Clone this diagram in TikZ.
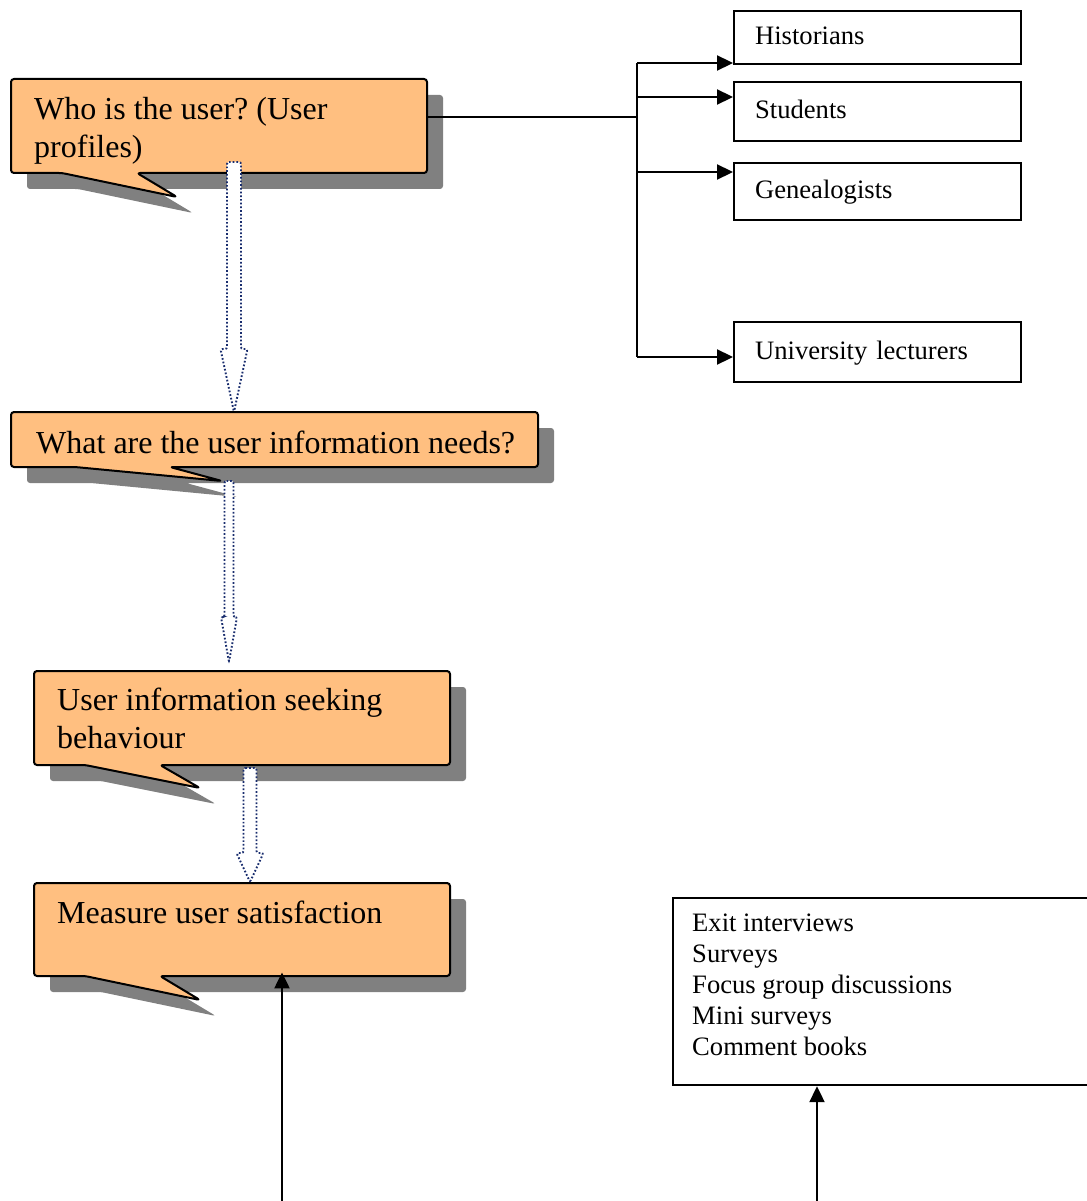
\documentclass[tikz,border=0pt]{standalone}
\usepackage{fontspec}
\setmainfont{Liberation Serif}
\usetikzlibrary{arrows.meta}
\definecolor{calloutfill}{RGB}{255,191,128}
\definecolor{shadowgray}{RGB}{128,128,128}
\definecolor{dotblue}{RGB}{25,45,110}
\frenchspacing
% x1 y1 x2 y2 bl br tipx tipy
\newcommand{\mycallout}[8]{%
  \fill[shadowgray, rounded corners=3pt, shift={(16,16)}] (#1,#2) -- (#3,#2) -- (#3,#4) -- (#6,#4) -- (#7,#8) -- (#5,#4) -- (#1,#4) -- cycle;
  \filldraw[fill=calloutfill, draw=black, line width=2pt, rounded corners=3pt, line join=round] (#1,#2) -- (#3,#2) -- (#3,#4) -- (#6,#4) -- (#7,#8) -- (#5,#4) -- (#1,#4) -- cycle;
}
% xc ytop halfshaft yhead halfhead ytip
\newcommand{\myblockarrow}[6]{%
  \filldraw[fill=white, draw=dotblue, line width=1.9pt, dash pattern=on 1.7pt off 2pt, rounded corners=2pt]
    (#1-#3,#2) -- (#1+#3,#2) -- (#1+#3,#4) -- (#1+#5,#4) -- (#1,#6) -- (#1-#5,#4) -- (#1-#3,#4) -- cycle;
}
\begin{document}
\begin{tikzpicture}[x=1pt,y=-1pt,
  callfont/.style={font=\fontsize{32}{38}\selectfont},
  boxfont/.style={font=\fontsize{26.6}{30.8}\selectfont},
  region/.style={inner sep=0pt, minimum width=#1, anchor=north west},
  userbox/.style={draw, line width=2.2pt, anchor=north west, text width=245pt, inner xsep=21pt, inner ysep=0pt, align=left, boxfont, text height=14pt, text depth=0pt},
  conn/.style={line width=2.2pt, -{Triangle[length=16pt,width=15pt]}},
  plain/.style={line width=1.7pt},
]
\useasboundingbox (0,0) rectangle (1086,1201);

% callout shapes
\mycallout{11}{79}{427}{173}{62}{137}{177}{197}
\mycallout{11}{412}{538}{467}{75}{170}{222}{481}
\mycallout{34}{671}{450}{765}{85}{160}{200}{788}
\mycallout{34}{883}{450}{976}{85}{160}{200}{1000}

% named regions of the callouts
\node[region=416pt, minimum height=94pt] (c1) at (11,79) {};
\node[region=527pt, minimum height=55pt] (c2) at (11,412) {};
\node[region=416pt, minimum height=94pt] (c3) at (34,671) {};
\node[region=416pt, minimum height=93pt] (c4) at (34,883) {};

% callout texts (base = last line)
\node[callfont, anchor=base west, inner sep=0pt, align=left] (t1) at (34,158) {Who is the user? (User\\profiles)};
\node[callfont, anchor=base west, inner sep=0pt] (t2) at (36,453) {What are the user information needs?};
\node[callfont, anchor=base west, inner sep=0pt, align=left] (t3) at (57,748) {User information seeking\\behaviour};
\node[callfont, anchor=base west, inner sep=0pt] (t4) at (57,923) {Measure user satisfaction};

% dotted block arrows
\myblockarrow{234}{162}{7}{349}{13.5}{412}
\myblockarrow{229}{481}{4.5}{617}{8}{662}
\myblockarrow{250}{768}{6.5}{853}{13.5}{882}

% user boxes
\node[userbox, minimum height=53pt] (hist) at (733,10) {Historians};
\node[userbox, minimum height=59pt] (stud) at (733,81) {Students};
\node[userbox, minimum height=57pt] (gene) at (733,162) {Genealogists};
\node[userbox, minimum height=60pt] (univ) at (733,321) {University lecturers};

% connectors to user boxes
\coordinate (junc) at (637,117);
\coordinate (bus1) at (637,63);
\coordinate (bus2) at (637,97);
\coordinate (bus3) at (637,172);
\coordinate (bus4) at (637,357);
\draw[plain] (c1.east |- junc) -- (junc);
\draw[line width=2.2pt] (bus1) -- (bus4);
\draw[conn] (bus1) -- (bus1 -| hist.west);
\draw[conn] (bus2) -- (bus2 -| stud.west);
\draw[conn] (bus3) -- (bus3 -| gene.west);
\draw[conn] (bus4) -- (bus4 -| univ.west);

% methods box
\node[draw, line width=2.2pt, anchor=north west, minimum width=440pt, minimum height=187pt, inner sep=0pt] (methods) at (672,897) {};
\node[boxfont, anchor=base west, inner sep=0pt, align=left] (mtext) at (692,1055) {Exit interviews\\Surveys\\Focus group discussions\\Mini surveys\\Comment books};

% bottom arrows
\coordinate (low1) at (282,1201);
\coordinate (low2) at (817,1201);
\draw[conn] (low1) -- ([yshift=4pt]low1 |- c4.south);
\draw[conn] (low2) -- (low2 |- methods.south);
\end{tikzpicture}
\end{document}
